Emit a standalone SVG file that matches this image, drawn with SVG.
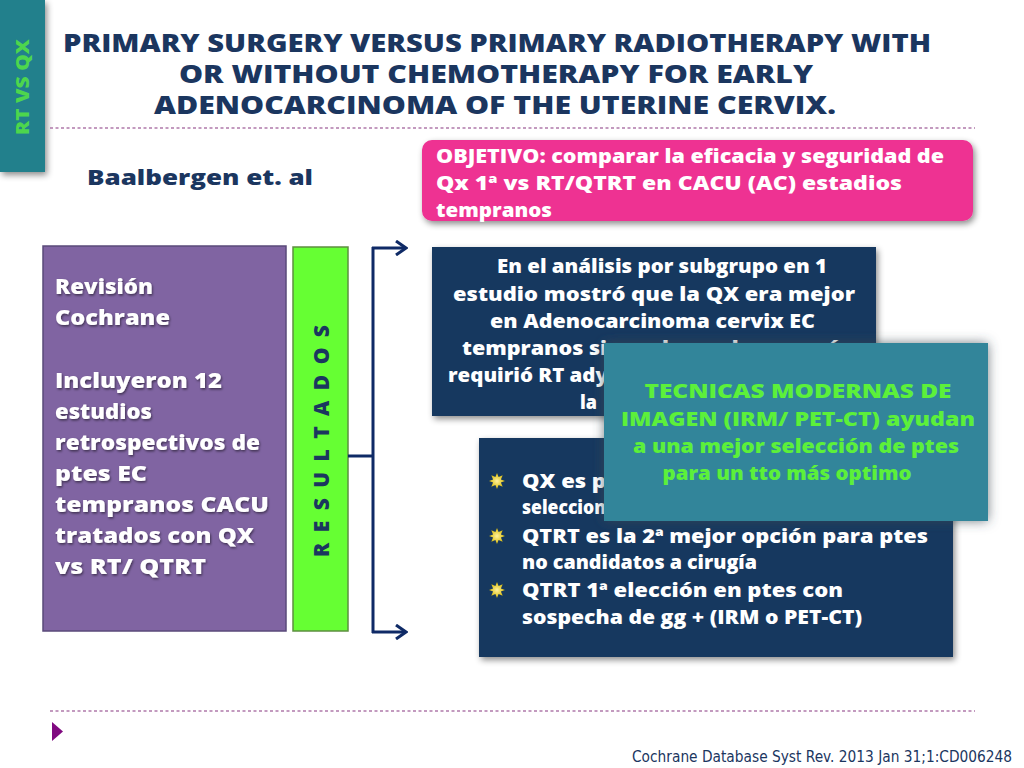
<svg xmlns="http://www.w3.org/2000/svg" xmlns:xlink="http://www.w3.org/1999/xlink" width="1024" height="768" viewBox="0 0 1024 768">
<style>
.b{font-family:"Open Sans","Liberation Sans",sans-serif;font-weight:800}
.ttl{font-size:24px;fill:#1b365f}
.w{fill:#ffffff}
.pt{font-size:20px}
.nv{font-size:19px}
.tl{font-size:19px;fill:#5cf03a}
.pp{font-size:20.5px}
.dash{stroke:#b07aaa;stroke-width:1.3;stroke-dasharray:3 2.5;fill:none}
.con{stroke:#0f2a66;stroke-width:3;fill:none}
</style>
<defs>
<filter id="sh" x="-10%" y="-20%" width="130%" height="150%">
<feDropShadow dx="2" dy="3" stdDeviation="3" flood-color="#000" flood-opacity="0.45"/>
</filter>
<filter id="glow" x="-15%" y="-20%" width="130%" height="140%">
<feDropShadow dx="0" dy="0" stdDeviation="6" flood-color="#3a4a55" flood-opacity="0.7"/>
</filter>
<filter id="ts" x="-5%" y="-20%" width="110%" height="150%">
<feDropShadow dx="1" dy="1.5" stdDeviation="0.8" flood-color="#000" flood-opacity="0.5"/>
</filter>
<radialGradient id="sun" cx="0.5" cy="0.5" r="0.5">
<stop offset="0" stop-color="#fff2a0"/>
<stop offset="1" stop-color="#d8b800"/>
</radialGradient>
<polygon id="bul" points="0,-8 1.6,-3.9 5.7,-5.7 3.9,-1.6 8,0 3.9,1.6 5.7,5.7 1.6,3.9 0,8 -1.6,3.9 -5.7,5.7 -3.9,1.6 -8,0 -3.9,-1.6 -5.7,-5.7 -1.6,-3.9" fill="url(#sun)"/>
<marker id="arr" markerWidth="14" markerHeight="16" refX="12" refY="8" orient="auto" markerUnits="userSpaceOnUse">
<path d="M2,1 L12,8 L2,15" fill="none" stroke="#0f2a66" stroke-width="3"/>
</marker>
</defs>
<rect width="1024" height="768" fill="#ffffff"/>

<g id="sidebar">
<rect x="0" y="0" width="45" height="172" fill="#23808c" filter="url(#sh)"/>
<text class="b" x="0" y="0" font-size="18" fill="#4dd64d" text-anchor="middle" textLength="96" lengthAdjust="spacingAndGlyphs" transform="translate(29,87) rotate(-90)">RT VS QX</text>
</g>

<g id="title">
<text class="b ttl" x="497" y="52" text-anchor="middle" textLength="868" lengthAdjust="spacingAndGlyphs">PRIMARY SURGERY VERSUS PRIMARY RADIOTHERAPY WITH</text>
<text class="b ttl" x="496" y="83" text-anchor="middle" textLength="634" lengthAdjust="spacingAndGlyphs">OR WITHOUT CHEMOTHERAPY FOR EARLY</text>
<text class="b ttl" x="495" y="114" text-anchor="middle" textLength="682" lengthAdjust="spacingAndGlyphs">ADENOCARCINOMA OF THE UTERINE CERVIX.</text>
</g>
<line class="dash" x1="50" y1="128" x2="975" y2="128"/>

<g id="author">
<text class="b" x="87" y="185" font-size="21" fill="#1b365f" textLength="226" lengthAdjust="spacingAndGlyphs">Baalbergen  et. al</text>
</g>

<g id="objetivo">
<rect x="422" y="140" width="551" height="81" rx="10" fill="#ee3192" filter="url(#sh)"/>
<g class="b pt w">
<text x="436" y="163" textLength="508" lengthAdjust="spacingAndGlyphs">OBJETIVO: comparar la eficacia y seguridad  de</text>
<text x="436" y="190" textLength="466" lengthAdjust="spacingAndGlyphs">Qx 1ª vs  RT/QTRT en CACU (AC) estadios</text>
<text x="436" y="217" textLength="116" lengthAdjust="spacingAndGlyphs">tempranos</text>
</g>
</g>

<g id="revision">
<rect x="43" y="246" width="243" height="385" fill="#8064a2" stroke="#5a4a7a" stroke-width="1.5"/>
<g class="b pp w" filter="url(#ts)">
<text x="55" y="294" textLength="98" lengthAdjust="spacingAndGlyphs">Revisión</text>
<text x="55" y="325" textLength="115" lengthAdjust="spacingAndGlyphs">Cochrane</text>
<text x="55" y="388" textLength="167" lengthAdjust="spacingAndGlyphs">Incluyeron  12</text>
<text x="55" y="419" textLength="97" lengthAdjust="spacingAndGlyphs">estudios</text>
<text x="55" y="450" textLength="205" lengthAdjust="spacingAndGlyphs">retrospectivos de</text>
<text x="55" y="481" textLength="92" lengthAdjust="spacingAndGlyphs">ptes EC</text>
<text x="55" y="512" textLength="214" lengthAdjust="spacingAndGlyphs">tempranos CACU</text>
<text x="55" y="543" textLength="199" lengthAdjust="spacingAndGlyphs">tratados con QX</text>
<text x="55" y="574" textLength="151" lengthAdjust="spacingAndGlyphs">vs RT/ QTRT</text>
</g>
</g>

<g id="resultados">
<rect x="293" y="247" width="55" height="384" fill="#66ff33" stroke="#5e8f40" stroke-width="1.5"/>
<text class="b" x="0" y="0" font-size="21" fill="#1b365f" text-anchor="middle" textLength="232" lengthAdjust="spacing" transform="translate(329,441) rotate(-90)">RESULTADOS</text>
</g>

<g id="connectors">
<line class="con" x1="348" y1="456" x2="374" y2="456"/>
<line class="con" x1="373" y1="247" x2="373" y2="633"/>
<path class="con" d="M372,248 L406,248" marker-end="url(#arr)"/>
<path class="con" d="M372,632 L406,632" marker-end="url(#arr)"/>
</g>

<g id="analisis">
<rect x="432" y="247" width="444" height="169" fill="#17375e" filter="url(#sh)"/>
<g class="b nv w">
<text x="497" y="273" textLength="330" lengthAdjust="spacingAndGlyphs">En el análisis por subgrupo en 1</text>
<text x="453" y="301" textLength="402" lengthAdjust="spacingAndGlyphs">estudio  mostró que la QX  era mejor</text>
<text x="490" y="328" textLength="325" lengthAdjust="spacingAndGlyphs">en  Adenocarcinoma cervix EC</text>
<text x="462" y="355" textLength="388" lengthAdjust="spacingAndGlyphs">tempranos  sin embargo la mayoría</text>
<text x="448" y="382" textLength="160" lengthAdjust="spacingAndGlyphs">requirió RT ady</text>
<text x="580" y="409" textLength="17" lengthAdjust="spacingAndGlyphs">la</text>
</g>
</g>

<g id="conclusiones">
<rect x="479" y="438" width="474" height="219" fill="#17375e" filter="url(#sh)"/>
<use xlink:href="#bul" x="497" y="481"/>
<use xlink:href="#bul" x="497" y="536"/>
<use xlink:href="#bul" x="497" y="590"/>
<g class="b nv w">
<text x="522" y="488" textLength="84" lengthAdjust="spacingAndGlyphs">QX  es p</text>
<text x="522" y="514" textLength="84" lengthAdjust="spacingAndGlyphs">seleccion</text>
<text x="522" y="543" textLength="406" lengthAdjust="spacingAndGlyphs">QTRT  es la 2ª mejor opción para ptes</text>
<text x="522" y="569" textLength="235" lengthAdjust="spacingAndGlyphs">no candidatos a cirugía</text>
<text x="522" y="597" textLength="321" lengthAdjust="spacingAndGlyphs">QTRT  1ª elección  en ptes con</text>
<text x="522" y="624" textLength="340" lengthAdjust="spacingAndGlyphs">sospecha de gg + (IRM o PET-CT)</text>
</g>
</g>

<g id="tecnicas">
<rect x="604" y="343" width="384" height="178" fill="#31859a" filter="url(#glow)"/>
<g class="b tl" text-anchor="middle">
<text x="798" y="398" textLength="307" lengthAdjust="spacingAndGlyphs">TECNICAS MODERNAS DE</text>
<text x="798" y="426" textLength="354" lengthAdjust="spacingAndGlyphs">IMAGEN  (IRM/ PET-CT)  ayudan</text>
<text x="796" y="453" textLength="326" lengthAdjust="spacingAndGlyphs">a una mejor  selección de ptes</text>
<text x="787" y="480" textLength="249" lengthAdjust="spacingAndGlyphs">para un  tto más optimo</text>
</g>
</g>

<line class="dash" x1="50" y1="711" x2="975" y2="711"/>
<polygon points="52,722 63,731.5 52,741" fill="#800a80"/>
<text x="1012" y="762" text-anchor="end" font-family="'DejaVu Sans Condensed','Liberation Sans',sans-serif" font-size="15" fill="#1b365f" textLength="380" lengthAdjust="spacingAndGlyphs">Cochrane Database Syst Rev. 2013 Jan 31;1:CD006248</text>
</svg>
